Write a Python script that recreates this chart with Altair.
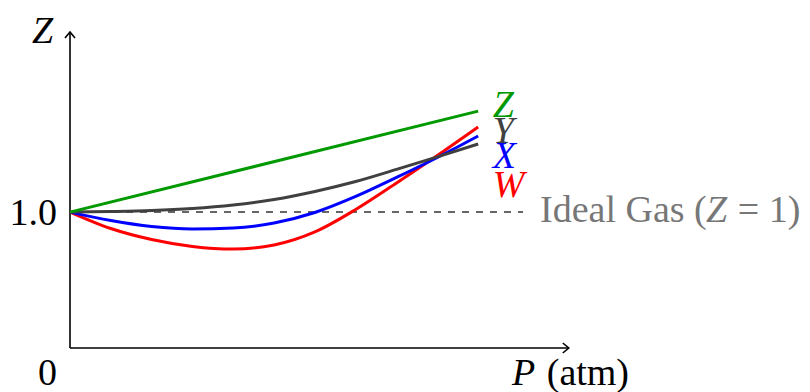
import altair as alt
import pandas as pd

# ---- data ----
P = [0, 1, 2, 3, 4, 5, 6, 7, 8, 9, 10]
Z_W = [1.000, 0.879, 0.798, 0.747, 0.728, 0.758, 0.854, 1.019, 1.214, 1.416, 1.626]
Z_X = [1.000, 0.938, 0.894, 0.876, 0.883, 0.920, 0.997, 1.115, 1.255, 1.402, 1.560]
Z_Y = [1.000, 1.004, 1.011, 1.026, 1.052, 1.093, 1.152, 1.225, 1.314, 1.406, 1.501]
P_Z = [0, 10]
Z_Z = [1.0, 1.743]

series_names = ["W", "X", "Y", "Z"]
series_colors = ["#ff0000", "#0000ff", "#404040", "#009900"]
label_y = [1.111, 1.324, 1.508, 1.700]
label_x = 10.36

X_MAX = 12.25
Y_MAX = 2.34
FONT = "Liberation Serif, Times New Roman, Times, DejaVu Serif, serif"
FS = 38

xs = alt.Scale(domain=[0, X_MAX], nice=False, zero=False)
ys = alt.Scale(domain=[0, Y_MAX], nice=False, zero=False)


def X(f="x"):
    return alt.X(f"{f}:Q", scale=xs, axis=None)


def Y(f="y"):
    return alt.Y(f"{f}:Q", scale=ys, axis=None)


layers = []

# ideal gas dashed line
dash_df = pd.DataFrame({"x": [0], "x2": [11.1], "y": [1.0]})
layers.append(
    alt.Chart(dash_df).mark_rule(color="#666666", strokeWidth=2, strokeDash=[7, 7])
    .encode(x=X(), x2="x2:Q", y=Y())
)

# axes
axis_df = pd.DataFrame({"x": [0, 0], "x2": [12.22, 0], "y": [0, 0], "y2": [0, 2.325]})
layers.append(
    alt.Chart(axis_df).mark_rule(color="black", strokeWidth=1.6)
    .encode(x=X(), x2="x2:Q", y=Y(), y2="y2:Q")
)
arrow_df = pd.DataFrame({"x": [12.22, 0], "y": [0, 2.325], "a": [0, 270]})
layers.append(
    alt.Chart(arrow_df).mark_point(
        shape="M-1.2,-1L0,0L-1.2,1", size=100, filled=False, color="black",
        strokeWidth=1.6, opacity=1
    ).encode(x=X(), y=Y(), angle=alt.Angle("a:Q", scale=None))
)

# curves
curve_data = [(P, Z_W), (P, Z_X), (P, Z_Y), (P_Z, Z_Z)]
for (px, pz), name, col in zip(curve_data, series_names, series_colors):
    df = pd.DataFrame({"x": px, "y": pz})
    layers.append(
        alt.Chart(df).mark_line(color=col, strokeWidth=3, interpolate="monotone")
        .encode(x=X(), y=Y())
    )

# curve labels
lab_df = pd.DataFrame({"x": [label_x] * 4, "y": label_y, "t": series_names, "c": series_colors})
layers.append(
    alt.Chart(lab_df).mark_text(font=FONT, fontSize=FS, fontStyle="italic",
                                align="left", baseline="alphabetic")
    .encode(x=X(), y=Y(), text="t:N", color=alt.Color("c:N", scale=None))
)

# axis texts (normal)
norm_df = pd.DataFrame({
    "x": [-0.318, -0.318],
    "y": [0.905, -0.27],
    "t": ["1.0", "0"],
})
layers.append(
    alt.Chart(norm_df).mark_text(font=FONT, fontSize=FS, align="right",
                                 baseline="alphabetic", color="black")
    .encode(x=X(), y=Y(), text="t:N")
)
norm2_df = pd.DataFrame({"x": [11.68], "y": [-0.27], "t": ["(atm)"]})
layers.append(
    alt.Chart(norm2_df).mark_text(font=FONT, fontSize=FS, align="left",
                                  baseline="alphabetic", color="black")
    .encode(x=X(), y=Y(), text="t:N")
)
ital_df = pd.DataFrame({"x": [-0.931, 10.83], "y": [2.244, -0.27], "t": ["Z", "P"]})
layers.append(
    alt.Chart(ital_df).mark_text(font=FONT, fontSize=FS, fontStyle="italic", align="left",
                                 baseline="alphabetic", color="black")
    .encode(x=X(), y=Y(), text="t:N")
)

# ideal gas label
gas_df = pd.DataFrame({"x": [11.515, 16.36], "y": [0.927, 0.927], "t": ["Ideal Gas (", "= 1)"]})
layers.append(
    alt.Chart(gas_df).mark_text(font=FONT, fontSize=FS, align="left",
                                baseline="alphabetic", color="#777777")
    .encode(x=X(), y=Y(), text="t:N")
)
gasz_df = pd.DataFrame({"x": [15.58], "y": [0.927], "t": ["Z"]})
layers.append(
    alt.Chart(gasz_df).mark_text(font=FONT, fontSize=FS, fontStyle="italic", align="left",
                                 baseline="alphabetic", color="#777777")
    .encode(x=X(), y=Y(), text="t:N")
)

chart = alt.layer(*layers).properties(
    width=500, height=318,
    autosize=alt.AutoSizeParams(type="none"),
    padding={"left": 62, "top": 22, "right": 232, "bottom": 44},
).configure_view(stroke=None)

chart.save("out.html", embed_options={"renderer": "svg", "actions": False})
